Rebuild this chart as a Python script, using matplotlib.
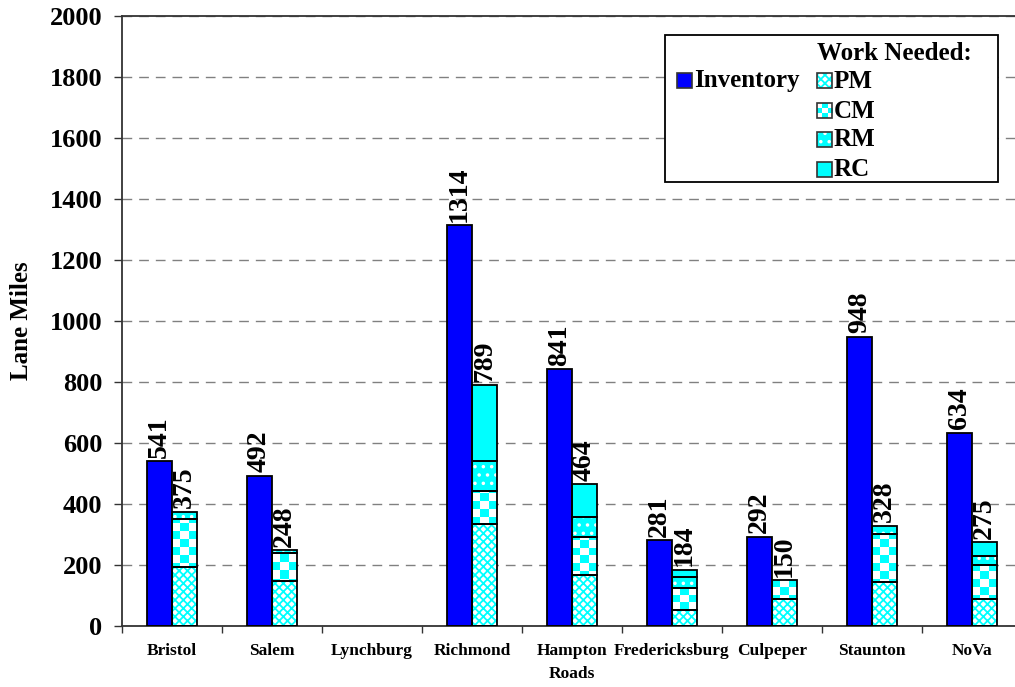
import matplotlib
matplotlib.use("Agg")
import matplotlib.pyplot as plt
import numpy as np
from matplotlib.colors import ListedColormap
from matplotlib.patches import Rectangle

regions = ["Bristol", "Salem", "Lynchburg", "Richmond", "Hampton\nRoads",
           "Fredericksburg", "Culpeper", "Staunton", "NoVa"]
inventory = [541, 492, 0, 1314, 841, 281, 292, 948, 634]
pm = [192, 146, 0, 335, 167, 52, 88, 143, 88]
cm = [158, 92, 0, 109, 124, 72, 62, 158, 113]
rm = [25, 10, 0, 98, 65, 38, 0, 27, 29]
rc = [0, 0, 0, 247, 108, 22, 0, 0, 45]

BLUE = "#0000ff"
CYAN = "#00ffff"

plt.rcParams["font.family"] = ["Liberation Serif", "DejaVu Serif"]
plt.rcParams["font.weight"] = "bold"
plt.rcParams["hatch.linewidth"] = 1.3

W, H = 1015, 687
fig = plt.figure(figsize=(W / 100, H / 100), dpi=100)
# axes runs past the right edge like the original
ax = fig.add_axes([122 / W, (H - 626) / H, 900 / W, 610 / H])

x = np.arange(len(regions))
bw = 0.25
checker_cmap = ListedColormap(["white", CYAN])


def hatched(xpos, height, bottom, face, hcolor, hatch):
    keep = np.asarray(height) > 0
    xpos = np.asarray(xpos)[keep]
    bottom = np.asarray(bottom)[keep]
    height = np.asarray(height)[keep]
    if hatch:
        ax.bar(xpos, height, bw, bottom=bottom, color=face, edgecolor=hcolor,
               hatch=hatch, linewidth=0, zorder=2)
    else:
        ax.bar(xpos, height, bw, bottom=bottom, color=face, linewidth=0, zorder=2)
    outline = ax.bar(xpos, height, bw, bottom=bottom, fill=False,
                     edgecolor="black", linewidth=1.3, zorder=4)
    return xpos, outline


def checker(xpos, height, bottom):
    xs, outline = hatched(xpos, height, bottom, "white", None, None)
    nrows = 78
    board = (np.add.outer(np.arange(nrows), np.arange(3)) % 2).astype(float)
    for xi, rect in zip(xs, outline.patches):
        im = ax.imshow(board, cmap=checker_cmap, interpolation="nearest",
                       extent=[xi - bw / 2, xi + bw / 2, 0, 2000],
                       aspect="auto", origin="lower", zorder=3)
        im.set_clip_path(rect)


inv_x = x - bw / 2
work_x = x + bw / 2

hatched(inv_x, inventory, np.zeros(len(x)), BLUE, None, None)

base = np.zeros(len(x))
hatched(work_x, pm, base, "white", CYAN, "xxxx")
base = base + pm
checker(work_x, cm, base)
base = base + cm
hatched(work_x, rm, base, CYAN, "white", "..")
base = base + rm
hatched(work_x, rc, base, CYAN, None, None)
work_total = base + rc

for xs, vals in ((inv_x, inventory), (work_x, work_total)):
    for xi, v in zip(xs, vals):
        if v > 0:
            ax.annotate(f"{int(v)}", (xi, v), xytext=(0, 2.5),
                        textcoords="offset points", rotation=90, ha="center",
                        va="bottom", fontsize=20, fontweight="bold")

ax.set_xlim(-0.5, len(regions) - 0.5)
ax.set_ylim(0, 2000)
ax.set_yticks(np.arange(0, 2001, 200))
ax.tick_params(axis="y", labelsize=19, length=6, width=1, pad=8, colors="#333333",
               labelcolor="black")
ax.set_xticks(x)
ax.set_xticklabels(regions, fontsize=12.5, fontweight="bold", linespacing=1.6)
ax.tick_params(axis="x", which="major", length=0, pad=12)
ax.set_xticks(np.arange(-0.5, len(regions) + 0.5, 1), minor=True)
ax.tick_params(axis="x", which="minor", length=5, width=1, colors="#333333")
ax.yaxis.grid(True, linestyle=(0, (7, 5)), color="#808080", linewidth=1.0)
ax.set_axisbelow(True)
for sp in ax.spines.values():
    sp.set_linewidth(1.3)
    sp.set_color("#333333")
ax.set_ylabel("Lane Miles", fontsize=18, fontweight="bold", labelpad=12)


# legend drawn by hand, placed in pixel units of the figure
def px(xp, yp):
    return (xp - 122) / 900, (626 - yp) / 610


fx0, fy0 = px(665, 182)
fx1, fy1 = px(998, 35)
ax.add_patch(Rectangle((fx0, fy0), fx1 - fx0, fy1 - fy0, transform=ax.transAxes,
                       facecolor="white", edgecolor="black", linewidth=1.3, zorder=6))

sw, sh = 15 / 900, 15 / 610


def swatch(xp, yp, face, hcolor=None, hatch=None):
    sx, sy = px(xp, yp + 15)
    if hatch:
        ax.add_patch(Rectangle((sx, sy), sw, sh, transform=ax.transAxes,
                               facecolor=face, edgecolor=hcolor, hatch=hatch,
                               linewidth=0, zorder=7))
    else:
        ax.add_patch(Rectangle((sx, sy), sw, sh, transform=ax.transAxes,
                               facecolor=face, linewidth=0, zorder=7))
    ax.add_patch(Rectangle((sx, sy), sw, sh, transform=ax.transAxes, fill=False,
                           edgecolor="#333333", linewidth=1.2, zorder=9))
    return sx, sy


def label(xp, yp, text):
    tx, ty = px(xp, yp + 8)
    ax.text(tx, ty, text, transform=ax.transAxes, fontsize=18, fontweight="bold",
            va="center", ha="left", zorder=9)


swatch(677, 73, BLUE)
label(694, 73, "Inventory")
ax.text(*px(817, 53), "Work Needed:", transform=ax.transAxes, fontsize=18,
        fontweight="bold", va="center", ha="left", zorder=9)
swatch(817, 73, "white", CYAN, "xxxx")
label(834, 73, "PM")
sx, sy = swatch(817, 103, "white")
cm_board = (np.add.outer(np.arange(3), np.arange(3)) % 2).astype(float)
ax.imshow(cm_board, cmap=checker_cmap, interpolation="nearest",
          extent=[sx, sx + sw, sy, sy + sh], transform=ax.transAxes,
          aspect="auto", origin="lower", zorder=8)
label(834, 103, "CM")
swatch(817, 132, CYAN, "white", "..")
label(834, 132, "RM")
swatch(817, 162, CYAN)
label(834, 162, "RC")

ax.set_xlim(-0.5, len(regions) - 0.5)
ax.set_ylim(0, 2000)

fig.savefig("out.png", dpi=100)
